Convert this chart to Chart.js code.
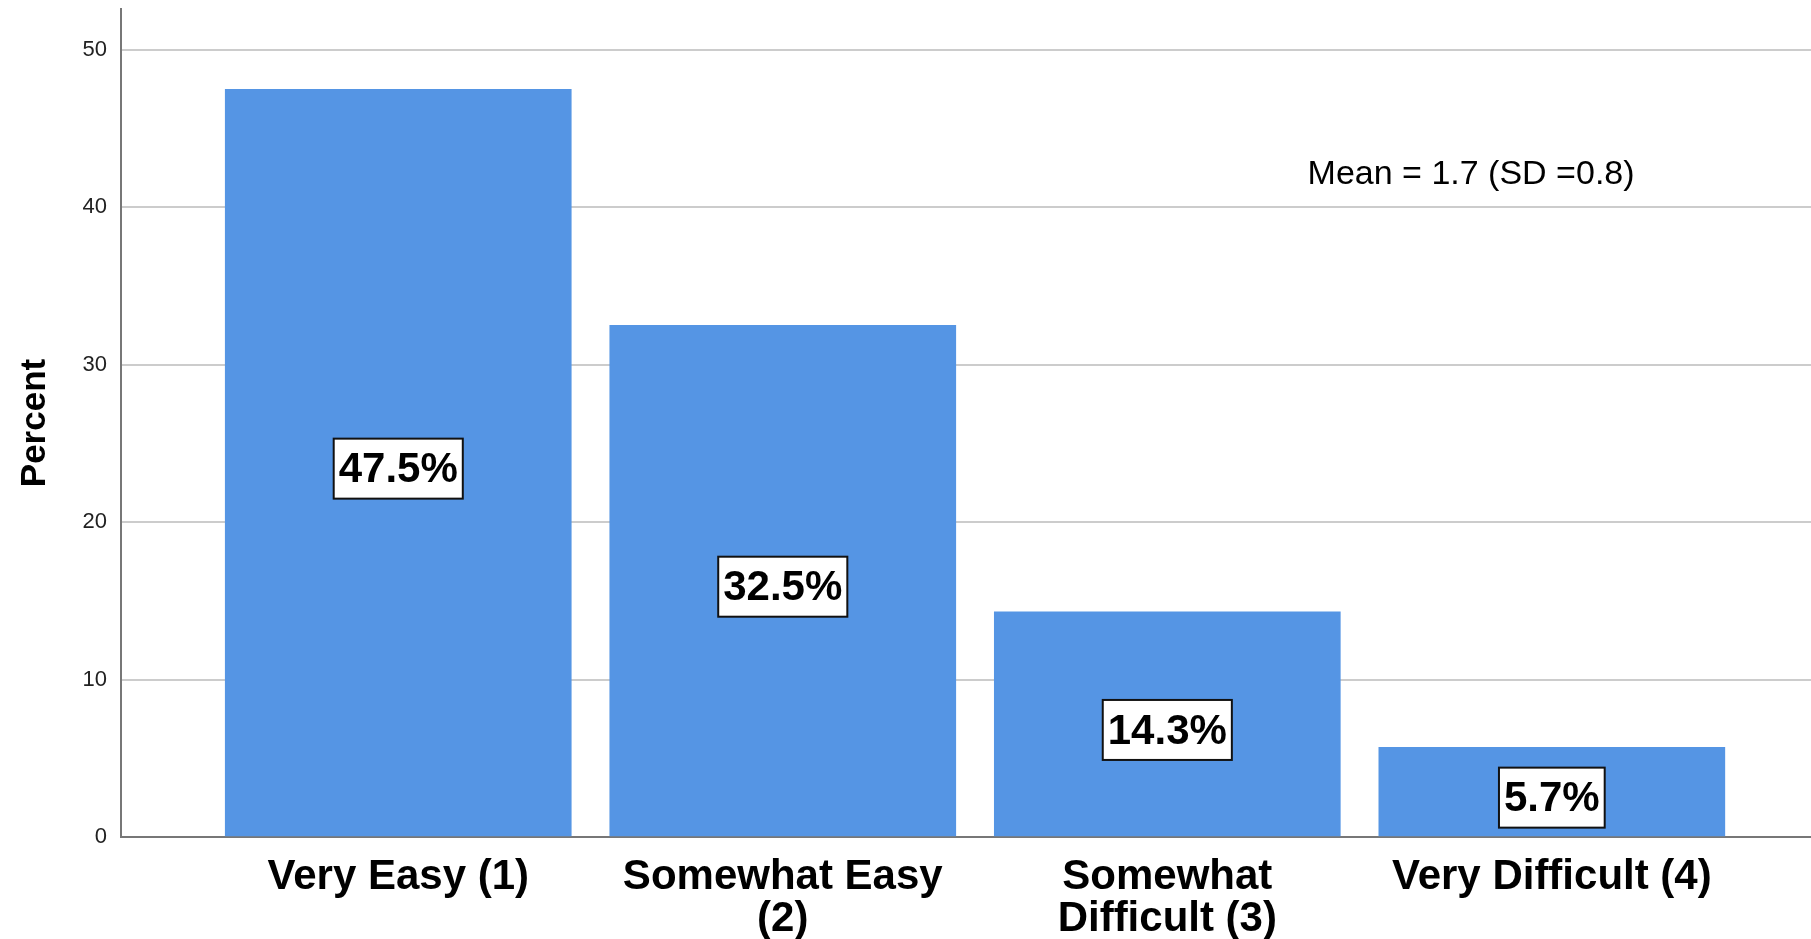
<!DOCTYPE html>
<html>
<head>
<meta charset="utf-8">
<script src="https://cdn.jsdelivr.net/npm/chart.js@4"></script>
<style>
  html, body { margin: 0; padding: 0; background: #fff; }
  #wrap { width: 1811px; height: 939px; }
</style>
</head>
<body>
<div id="wrap"><canvas id="difficultyChart"></canvas></div>
<script>
// Data
const categories = [
    ['Very Easy (1)'],
    ['Somewhat Easy', '(2)'],
    ['Somewhat', 'Difficult (3)'],
    ['Very Difficult (4)']
];
const percents = [47.5, 32.5, 14.3, 5.7];
const yTicks = [0, 10, 20, 30, 40, 50];
const meanText = 'Mean = 1.7 (SD =0.8)';

const FONT = '"Liberation Sans", Arial, sans-serif';
const barBlue = '#5595e4';

// value labels in white boxes, centred in each bar
const boxLabels = {
    id: 'boxLabels',
    afterDatasetsDraw(chart) {
        const ctx = chart.ctx;
        const meta = chart.getDatasetMeta(0);
        ctx.save();
        ctx.font = 'bold 42px ' + FONT;
        ctx.textAlign = 'center';
        ctx.textBaseline = 'middle';
        meta.data.forEach((bar, i) => {
            const text = percents[i].toFixed(1) + '%';
            const w = ctx.measureText(text).width + 10;
            const h = 60;
            const cx = bar.x;
            const cy = (bar.y + bar.base) / 2 + 6;
            ctx.fillStyle = '#fff';
            ctx.fillRect(cx - w / 2, cy - h / 2, w, h);
            ctx.strokeStyle = '#111';
            ctx.lineWidth = 2;
            ctx.strokeRect(cx - w / 2, cy - h / 2, w, h);
            ctx.fillStyle = '#000';
            ctx.fillText(text, cx, cy + 2);
        });

        // mean / sd annotation
        const xs = chart.scales.x, ys = chart.scales.y;
        ctx.font = '34px ' + FONT;
        ctx.fillText(meanText, xs.getPixelForValue(3.79), ys.getPixelForValue(42.1));
        ctx.restore();
    }
};

const ctx = document.getElementById('difficultyChart').getContext('2d');
new Chart(ctx, {
    type: 'bar',
    data: {
        datasets: [{
            data: percents.map((v, i) => ({ x: i + 1, y: v })),
            backgroundColor: barBlue,
            borderWidth: 0,
            barThickness: 346
        }]
    },
    options: {
        responsive: true,
        maintainAspectRatio: false,
        animation: false,
        layout: { padding: { top: 9, right: 0, left: 0, bottom: 0 } },
        plugins: {
            legend: { display: false },
            tooltip: { enabled: false }
        },
        scales: {
            x: {
                type: 'linear',
                offset: false,
                min: 0.279,
                max: 4.674,
                afterBuildTicks: axis => {
                    axis.ticks = categories.map((c, i) => ({ value: i + 1 }));
                },
                afterFit: axis => {
                    axis.height = 102;
                    axis.paddingLeft = 0;
                    axis.paddingRight = 0;
                },
                grid: { display: false, drawTicks: false },
                border: { display: true, color: '#777', width: 2 },
                ticks: {
                    autoSkip: false,
                    maxRotation: 0,
                    minRotation: 0,
                    padding: 19,
                    color: '#000',
                    font: { family: FONT, size: 42, weight: 'bold', lineHeight: 1.0 },
                    callback: value => categories[value - 1]
                }
            },
            y: {
                min: 0,
                max: 52.6,
                afterBuildTicks: axis => {
                    axis.ticks = yTicks.map(v => ({ value: v }));
                },
                afterFit: axis => {
                    axis.width = 121;
                    axis.paddingTop = 0;
                    axis.paddingBottom = 0;
                },
                grid: { color: '#cccccc', lineWidth: 2, drawTicks: false },
                border: { display: true, color: '#777', width: 2 },
                ticks: {
                    padding: 14,
                    color: '#222',
                    font: { family: FONT, size: 22 }
                },
                title: {
                    display: true,
                    text: 'Percent',
                    color: '#000',
                    padding: { top: 14, bottom: 0 },
                    font: { family: FONT, size: 35, weight: 'bold' }
                }
            }
        }
    },
    plugins: [boxLabels]
});
</script>
</body>
</html>
